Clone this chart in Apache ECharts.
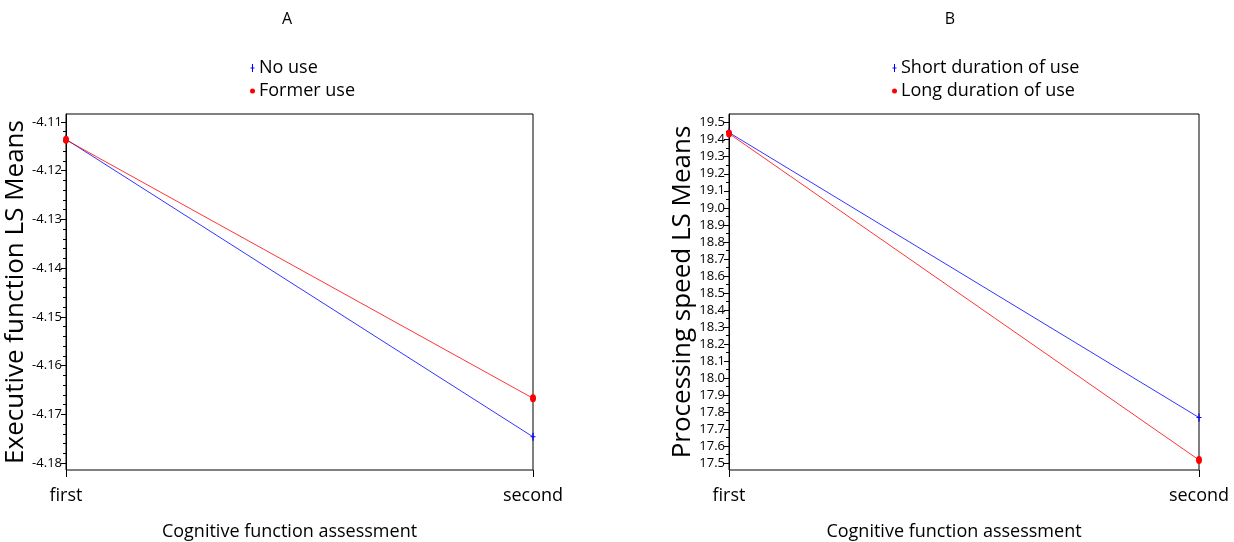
<!DOCTYPE html>
<html>
<head>
<meta charset="utf-8">
<script src="https://cdn.jsdelivr.net/npm/echarts@6/dist/echarts.min.js"></script>
<style>
html,body{margin:0;padding:0;background:#fff;}
#chart{width:1234px;height:542px;}
</style>
</head>
<body>
<div id="chart"></div>
<script>
// ---- data ----
var categories = ['first', 'second'];
var panelTitles = ['A', 'B'];
var xAxisName = 'Cognitive function assessment';

var namesA = ['No use', 'Former use'];
var noUse = [-4.1136, -4.1746];
var formerUse = [-4.1137, -4.1667];
var yNameA = 'Executive function LS Means';
var yTicksA = [-4.18, -4.17, -4.16, -4.15, -4.14, -4.13, -4.12, -4.11];

var namesB = ['Short duration of use', 'Long duration of use'];
var shortUse = [19.442, 17.768];
var longUse = [19.436, 17.519];
var yNameB = 'Processing speed LS Means';
var yTicksB = [17.5, 17.6, 17.7, 17.8, 17.9, 18.0, 18.1, 18.2, 18.3, 18.4, 18.5, 18.6, 18.7, 18.8, 18.9, 19.0, 19.1, 19.2, 19.3, 19.4, 19.5];

// ---- styling helpers ----
var FONT = '"Open Sans", "Noto Sans", sans-serif';
var BLUE = '#0000ff', RED = '#ff0000';
var plusIcon = 'path://M1.5,0h1v8h-1z M0,3.5h4v1h-4z';
var dotIcon = 'circle';

function minorTicks(ticks, sub) {
  var out = [];
  for (var i = 0; i < ticks.length - 1; i++) {
    var step = (ticks[i + 1] - ticks[i]) / sub;
    for (var k = 1; k < sub; k++) out.push(ticks[i] + step * k);
  }
  var s = (ticks[1] - ticks[0]) / sub;
  out.push(ticks[0] - s);
  return out;
}

var grids = [
  {left: 66, top: 114, width: 467, height: 356, show: true, borderColor: '#000', borderWidth: 1, backgroundColor: 'transparent', containLabel: false, outerBoundsMode: 'none'},
  {left: 729, top: 114, width: 470, height: 356, show: true, borderColor: '#000', borderWidth: 1, backgroundColor: 'transparent', containLabel: false, outerBoundsMode: 'none'}
];

function xAxisFor(gi) {
  return {
    type: 'category', gridIndex: gi, data: categories, boundaryGap: false,
    axisLine: {show: false},
    axisTick: {show: true, length: 7, inside: false, lineStyle: {color: '#000', width: 1}},
    axisLabel: {color: '#000', fontSize: 18, fontFamily: FONT, margin: 17},
    splitLine: {show: false},
    name: xAxisName, nameLocation: 'middle', nameGap: 53,
    nameTextStyle: {color: '#000', fontSize: 18, fontFamily: FONT, padding: [0, 20, 0, 0]}
  };
}

function yAxesFor(gi, ticks, minV, maxV, sub, dec, yname) {
  return [{
    type: 'value', gridIndex: gi, min: minV, max: maxV, position: 'left',
    axisLine: {show: true, lineStyle: {color: '#000', width: 1}},
    axisTick: {show: true, length: 5, customValues: ticks, lineStyle: {color: '#000'}},
    axisLabel: {show: true, customValues: ticks, color: '#000', fontSize: 13, fontFamily: FONT, margin: 4,
      formatter: function (v) { return Number(v).toFixed(dec); }},
    splitLine: {show: false},
    name: yname, nameLocation: 'middle', nameGap: 22, nameRotate: 90,
    nameTextStyle: {color: '#000', fontSize: 26, fontFamily: FONT}
  }, {
    type: 'value', gridIndex: gi, min: minV, max: maxV, position: 'left',
    axisLine: {show: false},
    axisTick: {show: true, length: 3, customValues: minorTicks(ticks, sub), lineStyle: {color: '#000'}},
    axisLabel: {show: false},
    splitLine: {show: false}
  }];
}

var yAxes = [].concat(
  yAxesFor(0, yTicksA, -4.1814, -4.1084, 5, 2, yNameA),
  yAxesFor(1, yTicksB, 17.46, 19.551, 2, 1, yNameB)
);

function lineSeries(name, data, color, icon, size, xi, yi) {
  return {
    name: name, type: 'line', data: data, xAxisIndex: xi, yAxisIndex: yi,
    symbol: icon, symbolSize: size, showSymbol: true,
    lineStyle: {color: color, width: 0.8},
    itemStyle: {color: color},
    animation: false, z: 3
  };
}

var option = {
  backgroundColor: '#fff',
  animation: false,
  title: [
    {text: panelTitles[0], left: 282, top: 6, textAlign: 'center', textStyle: {fontSize: 16, fontWeight: 'normal', color: '#000', fontFamily: FONT}},
    {text: panelTitles[1], left: 945, top: 6, textAlign: 'center', textStyle: {fontSize: 16, fontWeight: 'normal', color: '#000', fontFamily: FONT}}
  ],
  legend: [
    {orient: 'vertical', left: 245, top: 54, itemWidth: 5, itemHeight: 8, itemGap: 5,
      textStyle: {fontSize: 18, color: '#000', fontFamily: FONT, padding: [0, 0, 0, -1]},
      data: [{name: namesA[0], icon: plusIcon, itemStyle: {color: BLUE}}, {name: namesA[1], icon: dotIcon, itemStyle: {color: RED}}]},
    {orient: 'vertical', left: 887, top: 54, itemWidth: 5, itemHeight: 8, itemGap: 5,
      textStyle: {fontSize: 18, color: '#000', fontFamily: FONT, padding: [0, 0, 0, -1]},
      data: [{name: namesB[0], icon: plusIcon, itemStyle: {color: BLUE}}, {name: namesB[1], icon: dotIcon, itemStyle: {color: RED}}]}
  ],
  grid: grids,
  xAxis: [xAxisFor(0), xAxisFor(1)],
  yAxis: yAxes,
  series: [
    lineSeries(namesA[0], noUse, BLUE, plusIcon, [5, 8], 0, 0),
    lineSeries(namesA[1], formerUse, RED, dotIcon, [6, 8], 0, 0),
    lineSeries(namesB[0], shortUse, BLUE, plusIcon, [5, 8], 1, 2),
    lineSeries(namesB[1], longUse, RED, dotIcon, [6, 8], 1, 2)
  ]
};

var chart = echarts.init(document.getElementById('chart'), null, {renderer: 'canvas'});
chart.setOption(option);
</script>
</body>
</html>
